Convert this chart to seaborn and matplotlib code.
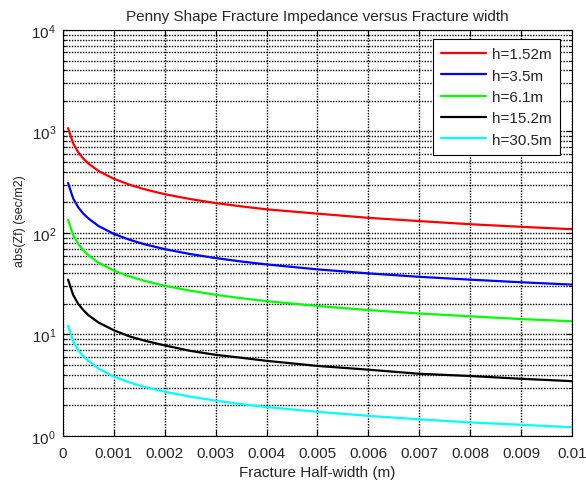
import matplotlib
matplotlib.use('Agg')
import matplotlib.pyplot as plt
import numpy as np
import pandas as pd
import seaborn as sns
from matplotlib.ticker import LogLocator, FixedLocator, FixedFormatter

# fracture half-width (m)
half_width = [0.0001, 0.0002, 0.0003, 0.0004, 0.0005, 0.0007, 0.001, 0.0013,
              0.0016, 0.002, 0.0025, 0.003, 0.0035, 0.004, 0.005, 0.006,
              0.007, 0.008, 0.009, 0.01]
# abs(Zf) for each fracture height
zf_152 = [1080, 764, 624, 540, 483, 408, 342, 300, 270, 241, 216, 197, 183,
          171, 155, 141, 131, 122, 115, 109]
zf_35 = [310, 219, 179, 155, 139, 117, 98, 86, 77.5, 69.3, 62, 56.6, 52.4,
         49, 43.8, 40, 37, 34.7, 32.7, 31]
zf_61 = [135, 95.5, 78, 67.5, 60.4, 51, 42.7, 37.4, 33.8, 30.2, 27, 24.6,
         22.8, 21.3, 19.1, 17.4, 16.1, 15.1, 14.2, 13.5]
zf_152b = [34.7, 24.5, 20.0, 17.4, 15.5, 13.1, 11.0, 9.6, 8.7, 7.8, 6.9, 6.3,
           5.9, 5.5, 4.9, 4.5, 4.1, 3.9, 3.66, 3.47]
zf_305 = [12.2, 8.6, 7.0, 6.1, 5.5, 4.6, 3.86, 3.38, 3.05, 2.73, 2.44, 2.23,
          2.06, 1.93, 1.73, 1.58, 1.46, 1.36, 1.29, 1.22]
labels = ['h=1.52m', 'h=3.5m', 'h=6.1m', 'h=15.2m', 'h=30.5m']
colors = ['#ff0000', '#0000ff', '#00ff00', '#000000', '#00ffff']
x_ticks = [0, 0.001, 0.002, 0.003, 0.004, 0.005, 0.006, 0.007, 0.008, 0.009, 0.01]
x_ticklabels = ['0', '0.001', '0.002', '0.003', '0.004', '0.005', '0.006',
                '0.007', '0.008', '0.009', '0.01']

# long-form table for seaborn
frames = []
for lab, vals in zip(labels, [zf_152, zf_35, zf_61, zf_152b, zf_305]):
    frames.append(pd.DataFrame({'w': half_width, 'zf': vals, 'h': lab}))
df = pd.concat(frames, ignore_index=True)

sns.set_style('white')
plt.rcParams['font.family'] = ['Liberation Sans', 'DejaVu Sans']
plt.rcParams['mathtext.fontset'] = 'custom'
plt.rcParams['mathtext.rm'] = 'Liberation Sans'

fig = plt.figure(figsize=(5.86, 4.81), dpi=100)
ax = fig.add_axes([0.1075, 0.0915, 0.8685, 0.8441])
sns.lineplot(data=df, x='w', y='zf', hue='h', hue_order=labels,
             palette=colors, linewidth=1.6, ax=ax, legend=True)
ax.set_yscale('log')
ax.set_xlim(0, 0.01)
ax.set_ylim(1, 1e4)

ax.xaxis.set_major_locator(FixedLocator(x_ticks))
ax.xaxis.set_major_formatter(FixedFormatter(x_ticklabels))
ax.yaxis.set_major_locator(LogLocator(base=10, numticks=10))
ax.yaxis.set_minor_locator(LogLocator(base=10, subs=np.arange(2, 10), numticks=20))

# MATLAB-like grid
ax.grid(True, which='major', axis='both', color='k', linestyle=(0, (1, 1)), linewidth=1.0)
ax.grid(True, which='minor', axis='y', color='k', linestyle=(0, (1, 1)), linewidth=1.0)
ax.tick_params(which='both', direction='in', labelsize=11, top=True, right=True,
               bottom=True, left=True, color='k')
ax.tick_params(which='major', length=4, pad=5)
ax.tick_params(axis='x', which='major', pad=7)
ax.tick_params(which='minor', length=2)
for sp in ax.spines.values():
    sp.set_color('k')
    sp.set_linewidth(0.8)

ax.set_title('Penny Shape Fracture Impedance versus Fracture width', fontsize=11, pad=7)
ax.set_xlabel('Fracture Half-width (m)', fontsize=11, labelpad=4)
ax.set_ylabel('abs(Zf) (sec/m2)', fontsize=9)
ax.yaxis.set_label_coords(-0.072, 0.532)

leg = ax.legend(loc='upper right', bbox_to_anchor=(0.976, 0.978), fontsize=11,
                fancybox=False, framealpha=1, edgecolor='k', handlelength=2.9,
                handletextpad=0.4, borderpad=0.55, labelspacing=0.48,
                borderaxespad=0)
leg.get_frame().set_linewidth(0.8)
for line in leg.get_lines():
    line.set_linewidth(1.6)

fig.savefig('out.png', dpi=100)
